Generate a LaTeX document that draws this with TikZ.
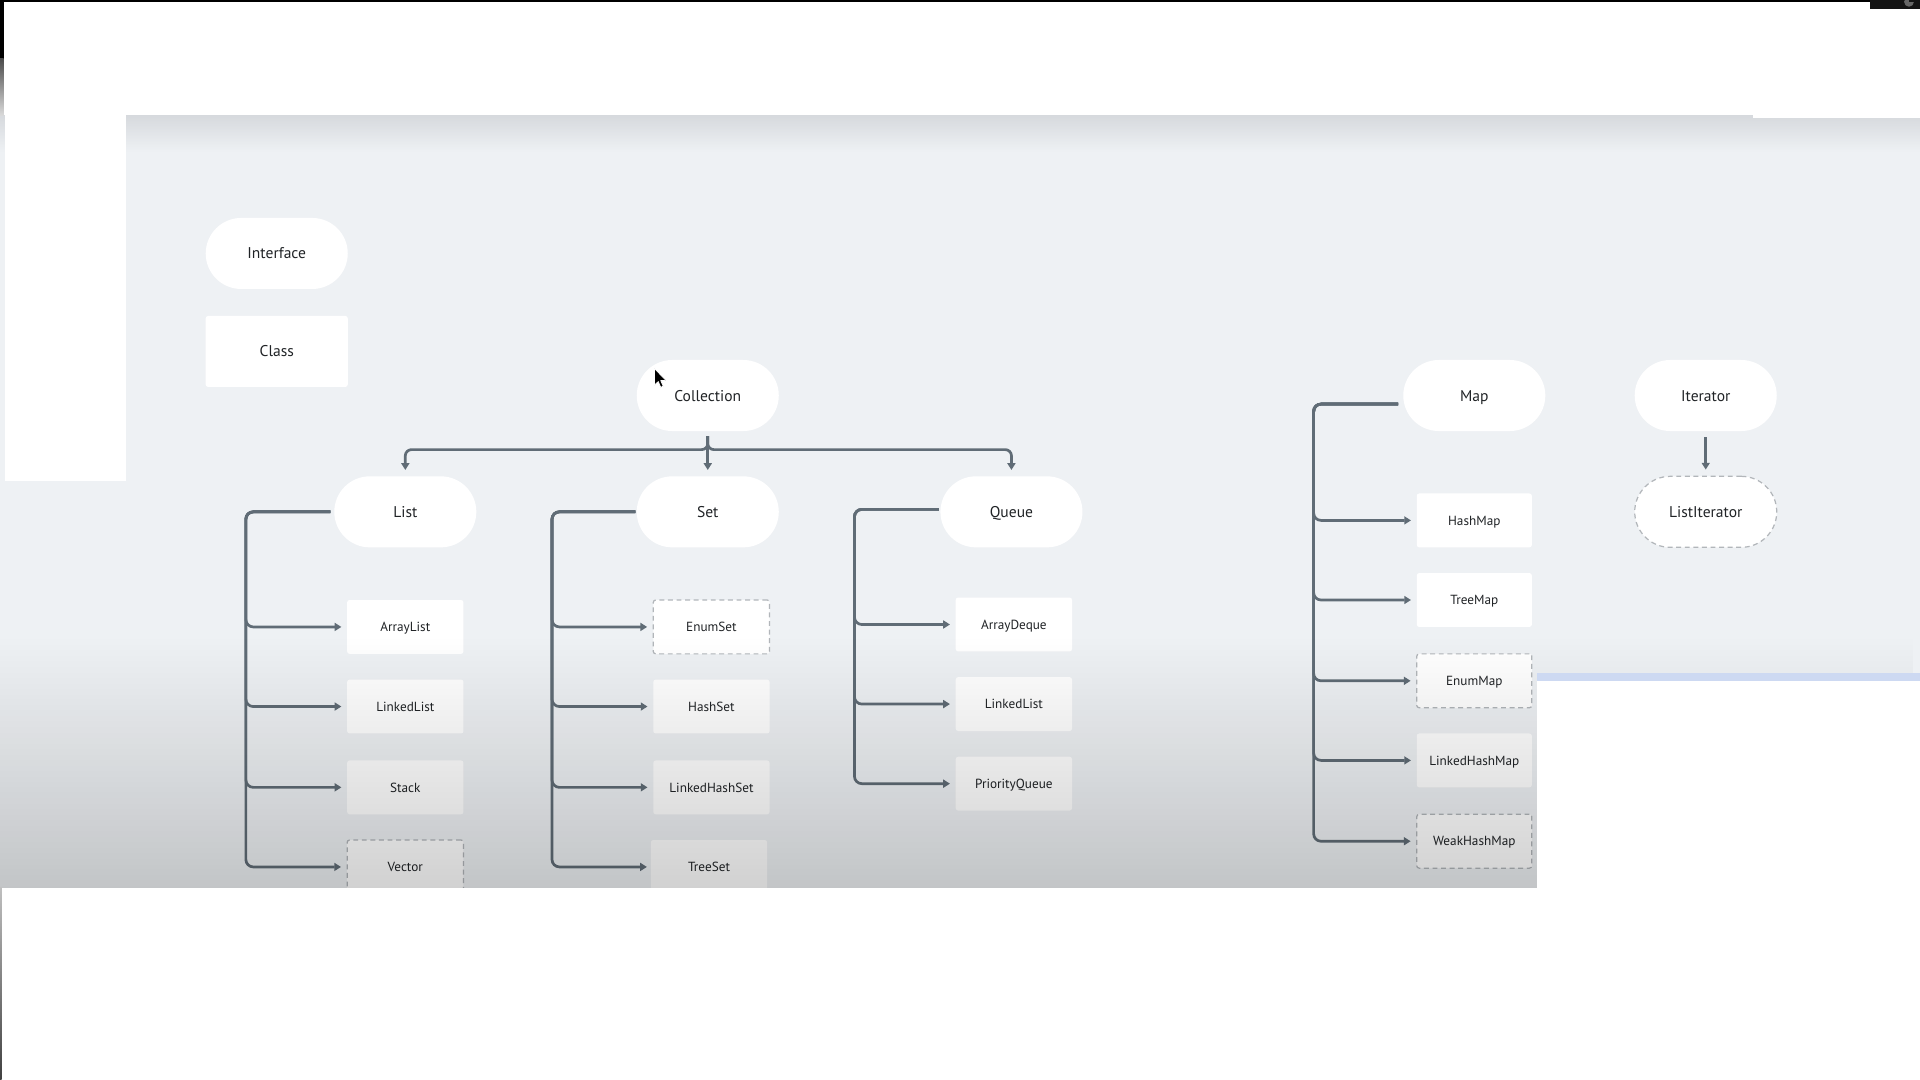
\documentclass[tikz,border=0pt]{standalone}
\usepackage{fontspec}
\setmainfont{PT Sans}
\usetikzlibrary{arrows.meta,fadings}
\definecolor{panel}{RGB}{238,241,244}
\definecolor{panelshadow}{RGB}{214,217,221}
\definecolor{conn}{RGB}{96,108,118}
\definecolor{txt}{RGB}{32,35,38}
\definecolor{dashcol}{RGB}{178,182,186}
\definecolor{blueline}{RGB}{205,217,242}
\tikzfading[name=darkdown, top color=transparent!100, bottom color=transparent!0]
\begin{document}
\begin{tikzpicture}[x=1pt,y=-1pt,
  iface/.style={rectangle, rounded corners=29pt, fill=white, minimum width=116pt, minimum height=58pt, inner sep=0pt, text=txt, font=\fontsize{12.7}{14}\selectfont, text height=9pt, text depth=0pt},
  cls/.style={rectangle, rounded corners=2pt, fill=white, minimum width=95pt, minimum height=44pt, inner sep=0pt, text=txt, font=\fontsize{10.8}{13}\selectfont, text height=7.7pt, text depth=0pt},
  dashedge/.style={draw=dashcol, line width=1pt, dash pattern=on 4pt off 3pt},
  link/.style={draw=conn, line width=2.2pt, rounded corners=6pt, -{Triangle[length=5.5pt,width=6.5pt]}},
]
\useasboundingbox (0,0) rectangle (1568,882);
% ---- screenshot background
\fill[white] (0,0) rectangle (1568,882);
\fill[panel] (0,94) rectangle (1568,725);
\shade[top color=panelshadow, bottom color=panel] (0,94) rectangle (1568,124);

% ---- legend
\node[iface] (IF) at (226,207) {Interface};
\node[cls, minimum width=116pt, minimum height=58pt, font=\fontsize{12.7}{14}\selectfont, text height=9pt] (CL) at (226,287) {Class};

% ---- interfaces
\node[iface] (C) at (578,323) {Collection};
\node[iface] (L) at (331,418) {List};
\node[iface] (S) at (578,418) {Set};
\node[iface] (Q) at (826,418) {Queue};
\node[iface] (M) at (1204,323) {Map};
\node[iface] (IT) at (1393,323) {Iterator};
\node[iface, dashedge] (LI) at (1393,418) {ListIterator};

% ---- List classes
\node[cls] (AL) at (331,512) {ArrayList};
\node[cls] (LL) at (331,577) {LinkedList};
\node[cls] (ST) at (331,643) {Stack};
\node[cls, dashedge] (VE) at (331,708) {Vector};
% ---- Set classes
\node[cls, dashedge] (ES) at (581,512) {EnumSet};
\node[cls] (HS) at (581,577) {HashSet};
\node[cls] (LHS) at (581,643) {LinkedHashSet};
\node[cls] (TS) at (579,708) {TreeSet};
% ---- Queue classes
\node[cls] (AD) at (828,510) {ArrayDeque};
\node[cls] (QLL) at (828,575) {LinkedList};
\node[cls] (PQ) at (828,640) {PriorityQueue};
% ---- Map classes
\node[cls, minimum width=94pt] (HM) at (1204,425) {HashMap};
\node[cls, minimum width=94pt] (TM) at (1204,490) {TreeMap};
\node[cls, minimum width=94pt, dashedge] (EM) at (1204,556) {EnumMap};
\node[cls, minimum width=94pt] (LHM) at (1204,621) {LinkedHashMap};
\node[cls, minimum width=94pt, dashedge] (WHM) at (1204,687) {WeakHashMap};

% ---- connectors
\draw[link, rounded corners=5pt] ([yshift=-4pt]C.south) -- ++(0,11) -| ([yshift=5pt]L.north);
\draw[link, rounded corners=5pt] ([yshift=-4pt]C.south) -- ++(0,11) -| ([yshift=5pt]Q.north);
\draw[link] ([yshift=-4pt]C.south) -- ([yshift=5pt]S.north);

\foreach \c in {AL,LL,ST,VE}
  \draw[link] ([xshift=-3pt]L.west) -- ++(-69,0) |- ([xshift=-4.5pt]\c.west);
\foreach \c in {ES,HS,LHS}
  \draw[link] ([xshift=-1pt]S.west) -- ++(-68,0) |- ([xshift=-4.5pt]\c.west);
\draw[link] ([xshift=-1pt]S.west) -- ++(-68,0) |- ([xshift=-3pt]TS.west);
\foreach \c in {AD,QLL,PQ}
  \draw[link] ([xshift=-1pt,yshift=2pt]Q.west) -- ++(-69,0) |- ([xshift=-4.5pt]\c.west);
\foreach \c in {HM,TM,EM,LHM,WHM}
  \draw[link] ([xshift=-4pt,yshift=-7pt]M.west) -- ++(-69,0) |- ([xshift=-4.5pt]\c.west);
\draw[link] ([yshift=-5pt]IT.south) -- ([yshift=5pt]LI.north);

% ---- darkening toward the bottom of the screenshot
\fill[black, opacity=0.18, path fading=darkdown] (0,520) rectangle (1568,725);

% ---- screenshot covers and edges
\fill[white] (4,94) rectangle (103,393);
\fill[white] (1432,93.5) rectangle (1568,96);
\fill[white] (0,725) rectangle (1568,882);
\shade[top color=black!25, bottom color=black!75] (0,725) rectangle (1.3,882);
\fill[blueline] (1255,550) rectangle (1568,556);
\fill[white] (1255,556) rectangle (1568,725);
\fill[black] (0,0) rectangle (1527,1.6);
\fill[black!92] (1527,0) rectangle (1568,7);
\fill[black!60] (1559,1.5) circle (4);
\fill[black!92] (1559,0) rectangle (1568,2);
\fill[black] (0,0) rectangle (3,48);
\shade[top color=black!70, bottom color=black!15] (0,48) rectangle (3,94);

% ---- mouse pointer
\fill[black, draw=white, line width=0.6pt, line join=round]
  (534.5,301) -- (534.5,314.5) -- (537.6,311.6) -- (539.6,316.3) -- (541.6,315.4)
  -- (539.6,310.8) -- (543.8,310.6) -- cycle;
\end{tikzpicture}
\end{document}
